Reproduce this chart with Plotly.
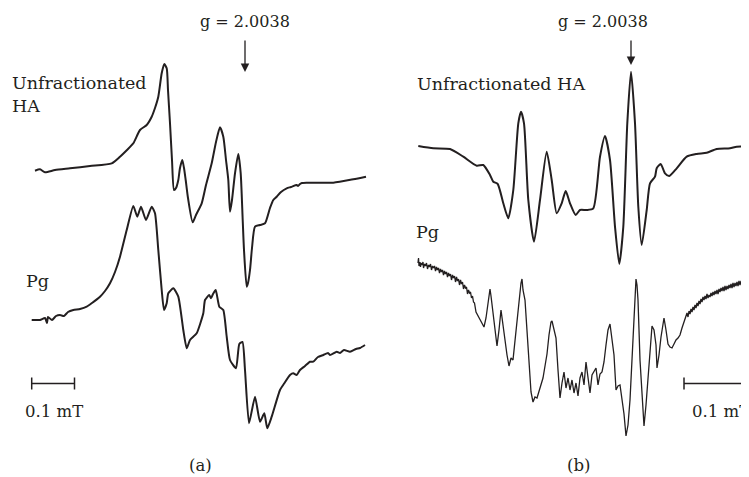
import plotly.graph_objects as go

# Field position (arbitrary units, left->right) and signal (screen-down units)
ha_a_field = [35, 40, 45, 55, 70, 90, 111.7, 120, 127, 133.3, 140, 146.7, 151.7, 155, 158.3, 161.7, 164.3, 166.7, 168, 170, 172, 174, 176, 178.3, 180, 182.3, 184, 185.7, 188, 192.7, 196, 201.7, 206, 211.7, 216, 220, 223.3, 226, 228.3, 230, 232, 235, 238.3, 240.7, 242.7, 244, 246.7, 248, 250, 252, 255, 260, 265, 270, 273.3, 276.7, 281, 286.7, 291, 296.7, 298, 300, 302, 306.7, 313.3, 333.3, 353.3, 366]
ha_a_signal = [170.7, 169.3, 172.3, 170, 168.3, 166, 163.3, 156.7, 150, 143.3, 130, 125, 116.7, 108, 96.7, 73.3, 64, 68.3, 90, 123.3, 160, 190, 188, 180, 168, 160, 168, 180, 198, 222.3, 215, 203.3, 185, 163.3, 142, 127.3, 136.7, 160, 180, 211.7, 200, 173.3, 154, 173.3, 220, 250, 286.7, 283, 270, 248, 226.7, 225, 223.3, 208, 200, 196.7, 192, 188.3, 187, 185, 186, 184, 183, 182.7, 182.7, 182.7, 179.3, 176.7]

pg_a_field = [31.7, 40, 45, 47, 48, 52, 56, 60, 64, 68, 73.3, 80, 86.7, 92, 100, 105, 110, 115, 120, 126.7, 133.3, 137.3, 141, 146, 151.7, 155, 158.3, 161.7, 164, 166.7, 168.3, 173.3, 178.3, 183.3, 186.7, 190, 196.7, 203.3, 205, 209.3, 211, 213, 215.7, 219.3, 223.3, 226.7, 230, 236, 239.3, 242.5, 245, 249, 255, 260, 264.3, 267.3, 271.7, 280, 284.3, 290, 293.3, 296.7, 300, 305, 310, 313.3, 318, 323.3, 328, 330, 336.7, 340, 344, 350, 356, 360, 365]
pg_a_signal = [320, 320, 318, 323, 317, 320, 316, 315, 316, 312, 310, 309, 306.7, 303, 296.7, 291, 283.3, 272, 256.7, 230, 206, 216.7, 206.7, 220, 206.7, 213.3, 250, 290, 310, 303.3, 293.3, 288.3, 296.7, 330, 348.3, 340, 333.3, 313.3, 300, 295, 298.3, 294, 290, 306.7, 310, 336.7, 360, 368.3, 344, 342, 370, 423.3, 396.7, 421.7, 413.3, 428.3, 416.7, 390, 383.3, 375, 373.3, 375, 370, 366, 361.7, 361.7, 357, 355, 353, 355, 351.7, 353, 350, 351.7, 349, 348, 345]

ha_b_field = [418.3, 433.3, 450, 463.3, 476.7, 483.3, 490, 493.3, 497.7, 503.3, 508.3, 513.3, 518.3, 521, 524, 528.3, 534, 540, 546.7, 551.7, 556.7, 561.7, 565.7, 570, 575.7, 580, 586.7, 593.3, 600, 605, 610, 615, 619.3, 623.3, 627.3, 631, 635, 638.3, 641.7, 646.7, 650, 655, 656.7, 660.7, 665, 669.3, 676.7, 686.7, 696.7, 706.7, 716.7, 730, 736.7, 748.3]
ha_b_signal = [146, 148.3, 149, 156.7, 165.7, 165, 175, 181.7, 184, 203.3, 218.3, 190, 123.3, 111.7, 123.3, 200, 241.7, 200, 151.7, 180, 213.3, 203.3, 191, 203.3, 215, 210, 210, 208.3, 156.7, 136, 160, 226.7, 264, 226.7, 123.3, 71.7, 123.3, 206.7, 245, 210, 183.3, 176.7, 168.3, 164, 173.3, 176, 168.3, 156.7, 154, 152.7, 149, 148.3, 146.7, 146.7]

pg_b_field = [418, 418.5, 419, 420, 420.5, 421, 422, 423, 423.5, 424.5, 425.5, 426.5, 427.5, 428.5, 429.5, 430.5, 431.5, 432.5, 433.5, 434.5, 435.5, 436.5, 437.5, 438.5, 439.5, 440.5, 441.5, 442.5, 443.5, 444.5, 445.5, 446.5, 447.5, 448.5, 449.5, 450.5, 451.5, 452.5, 453.5, 454.5, 455.5, 456.5, 457.5, 458.5, 459.5, 460.5, 461.5, 462.5, 463.5, 464.5, 465.5, 466.5, 467.5, 468.5, 469.5, 470.5, 471.5, 472.5, 473.5, 474.5, 476, 478, 480, 482, 484, 486, 488, 490, 491, 493, 495, 497, 499, 501, 503, 505, 507, 509, 511, 513, 515, 517, 519, 521, 522, 523, 525, 527, 529, 531, 533, 535, 537, 539, 541, 543, 545, 547, 549, 551, 552, 554, 556, 558, 560, 562, 564, 566, 568, 570, 572, 574, 576, 578, 580, 582, 584, 586, 588, 590, 592, 594, 596, 598, 600, 602, 604, 606, 608, 610, 612, 614, 616, 618, 620, 622, 624, 626, 628, 630, 632, 634, 636, 637, 638, 640, 642, 644, 646, 648, 650, 652, 654, 656, 657, 659, 661, 663, 664, 666, 668, 670, 672, 674, 676, 678, 680, 682, 684, 686, 687, 688, 689, 690, 691, 692, 693, 694, 695, 696, 697, 698, 699, 700, 701, 702, 703, 704, 705, 706, 707, 708, 709, 710, 711, 712, 713, 714, 715, 716, 717, 718, 719, 720, 721, 722, 723, 724, 725, 726, 727, 728, 729, 730, 731, 732, 733, 734, 735, 736, 737, 738, 739, 740, 741, 742, 743, 744, 745, 746, 747, 748]
pg_b_signal = [263, 258, 266, 262, 267, 263, 265, 262, 268, 264, 266, 263, 269, 265, 267, 264, 270, 266, 268, 266, 271, 267, 270, 268, 273, 269, 272, 270, 275, 271, 274, 272, 277, 273, 276, 274, 280, 275, 278, 276, 282, 277, 281, 279, 285, 280, 284, 282, 289, 285, 288, 287, 294, 290, 293, 292, 298, 296, 302, 303, 312, 316, 320, 324, 327, 318, 305, 289, 296, 313, 330, 346, 330, 310, 325, 343, 355, 366, 358, 360, 340, 318, 300, 283, 279, 290, 300, 330, 370, 392, 402, 397, 398, 391, 385, 378, 366, 354, 335, 322, 321, 330, 338, 370, 398, 383, 372, 388, 378, 390, 380, 393, 383, 396, 378, 372, 385, 362, 380, 393, 375, 372, 368, 385, 374, 372, 362, 345, 330, 324, 338, 355, 390, 386, 385, 398, 414, 436, 425, 400, 355, 310, 279, 285, 300, 360, 400, 426, 405, 375, 345, 326, 330, 345, 368, 355, 337, 322, 318, 330, 344, 347, 348, 344, 340, 338, 335, 328, 322, 315, 313, 317, 311, 314, 309, 312, 307, 310, 305, 308, 303, 306, 301, 304, 299, 302, 297, 300, 296, 299, 294, 298, 295, 297, 293, 296, 292, 295, 291, 294, 290, 294, 289, 292, 288, 291, 287, 291, 286, 290, 286, 289, 285, 288, 284, 288, 283, 287, 283, 286, 282, 286, 281, 285, 281, 284, 280, 284, 279, 283, 279, 282, 278, 281, 277]

g_label = "g = 2.0038"
scale_label = "0.1 mT"

INK = "#231f20"
FONT = "DejaVu Serif"

fig = go.Figure()
fig.add_trace(go.Scatter(x=ha_a_field, y=ha_a_signal, mode="lines",
                         line=dict(color=INK, width=2, shape="spline", smoothing=0.6)))
fig.add_trace(go.Scatter(x=pg_a_field, y=pg_a_signal, mode="lines",
                         line=dict(color=INK, width=2, shape="spline", smoothing=0.5)))
fig.add_trace(go.Scatter(x=ha_b_field, y=ha_b_signal, mode="lines",
                         line=dict(color=INK, width=2, shape="spline", smoothing=0.6)))
fig.add_trace(go.Scatter(x=pg_b_field, y=pg_b_signal, mode="lines",
                         line=dict(color=INK, width=1.3)))

# scale bars
fig.add_trace(go.Scatter(x=[31.7, 31.7, None, 31.7, 74.5, None, 74.5, 74.5],
                         y=[377.5, 389.5, None, 383.5, 383.5, None, 377.5, 389.5],
                         mode="lines", line=dict(color=INK, width=1.5)))
fig.add_trace(go.Scatter(x=[684, 684, None, 684, 760],
                         y=[377.5, 389.5, None, 383.5, 383.5],
                         mode="lines", line=dict(color=INK, width=1.5)))

ann = []
def txt(x, y, s, anchor="left", size=17.5):
    ann.append(dict(x=x, y=y, xref="x", yref="y", text=s, showarrow=False,
                    xanchor=anchor, yanchor="middle",
                    font=dict(family=FONT, size=size, color=INK)))

txt(245, 21, g_label, "center", 16)
txt(603, 21, g_label, "center", 16)
txt(10, 83, "Unfractionated")
txt(10, 106, "HA")
txt(24, 281, "Pg")
txt(415, 84, "Unfractionated HA")
txt(414, 232, "Pg")
txt(53.5, 411, scale_label, "center", 16.5)
txt(690, 411, scale_label, "left", 16.5)
txt(200, 465, "(a)", "center", 16.5)
txt(578, 465, "(b)", "center", 16.5)

for xa, ytop, ytip in [(245, 39, 72), (631, 39, 65)]:
    ann.append(dict(x=xa, y=ytip, ax=xa, ay=ytop, xref="x", yref="y", axref="x", ayref="y",
                    text="", showarrow=True, arrowhead=2, arrowsize=1.3, arrowwidth=1.3,
                    arrowcolor=INK))

# page body has an 8px margin: size the figure to the remaining window area
fig.update_layout(
    width=741, height=469, margin=dict(l=0, r=0, t=0, b=0),
    paper_bgcolor="white", plot_bgcolor="white", showlegend=False,
    xaxis=dict(range=[8, 749], visible=False, fixedrange=True),
    yaxis=dict(range=[477, 8], visible=False, fixedrange=True),
    annotations=ann,
)
fig.write_html("out.html")
